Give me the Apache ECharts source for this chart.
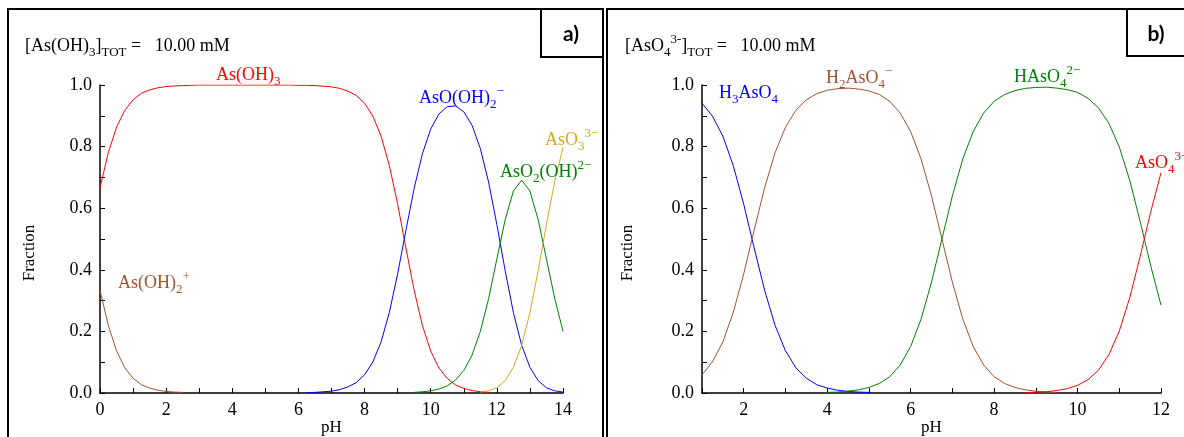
<!DOCTYPE html>
<html><head><meta charset="utf-8">
<script src="https://cdn.jsdelivr.net/npm/echarts@6/dist/echarts.min.js"></script>
<style>html,body{margin:0;padding:0;background:#fff}#c{width:1184px;height:437px}</style>
</head><body><div id="c"></div>
<script>
// ---- Panel a: As(III) speciation, pH 0..14 step 0.25 ----
const phA = [0,0.25,0.5,0.75,1,1.25,1.5,1.75,2,2.25,2.5,2.75,3,3.25,3.5,3.75,4,4.25,4.5,4.75,5,5.25,5.5,5.75,6,6.25,6.5,6.75,7,7.25,7.5,7.75,8,8.25,8.5,8.75,9,9.25,9.5,9.75,10,10.25,10.5,10.75,11,11.25,11.5,11.75,12,12.25,12.5,12.75,13,13.25,13.5,13.75,14];
const asOH2p = [0.334,0.220,0.137,0.082,0.048,0.027,0.016,0.009,0.005,0.003,0.002,null,null,null,null,null,null,null,null,null,null,null,null,null,null,null,null,null,null,null,null,null,null,null,null,null,null,null,null,null,null,null,null,null,null,null,null,null,null,null,null,null,null,null,null,null,null];
const asOH3 = [0.666,0.780,0.863,0.918,0.952,0.973,0.984,0.991,0.995,0.997,0.998,0.999,1.000,1.000,1.000,1.000,1.000,1.000,1.000,1.000,1.000,1.000,1.000,1.000,0.999,0.999,0.998,0.996,0.994,0.989,0.980,0.966,0.941,0.899,0.834,0.738,0.613,0.471,0.333,0.219,0.136,0.081,0.047,0.026,0.015,0.008,0.004,0.002,null,null,null,null,null,null,null,null,null];
const asOOH2m = [null,null,null,null,null,null,null,null,null,null,null,null,null,null,null,null,null,null,null,null,null,null,null,null,null,0.001,0.002,0.004,0.006,0.011,0.020,0.034,0.059,0.101,0.166,0.262,0.387,0.528,0.665,0.777,0.857,0.906,0.930,0.932,0.913,0.869,0.794,0.685,0.547,0.398,0.261,0.155,0.083,0.040,0.017,0.007,0.003];
const asO2OH2m = [null,null,null,null,null,null,null,null,null,null,null,null,null,null,null,null,null,null,null,null,null,null,null,null,null,null,null,null,null,null,null,null,null,null,null,null,null,null,0.002,0.004,0.007,0.013,0.023,0.042,0.073,0.123,0.200,0.306,0.435,0.562,0.656,0.691,0.656,0.562,0.435,0.307,0.200];
const asO3m = [null,null,null,null,null,null,null,null,null,null,null,null,null,null,null,null,null,null,null,null,null,null,null,null,null,null,null,null,null,null,null,null,null,null,null,null,null,null,null,null,null,null,null,null,null,null,0.003,0.007,0.017,0.040,0.083,0.155,0.261,0.398,0.548,0.687,0.797];

// ---- Panel b: As(V) speciation, pH 1..12 step 0.25 ----
const phB = [1,1.25,1.5,1.75,2,2.25,2.5,2.75,3,3.25,3.5,3.75,4,4.25,4.5,4.75,5,5.25,5.5,5.75,6,6.25,6.5,6.75,7,7.25,7.5,7.75,8,8.25,8.5,8.75,9,9.25,9.5,9.75,10,10.25,10.5,10.75,11,11.25,11.5,11.75,12];
const h3aso4 = [0.941,0.899,0.834,0.738,0.613,0.471,0.334,0.220,0.137,0.082,0.048,0.027,0.016,0.009,0.005,0.003,0.002,null,null,null,null,null,null,null,null,null,null,null,null,null,null,null,null,null,null,null,null,null,null,null,null,null,null,null,null];
const h2aso4 = [0.059,0.101,0.166,0.262,0.387,0.529,0.666,0.780,0.863,0.918,0.952,0.972,0.983,0.988,0.990,0.987,0.981,0.969,0.947,0.909,0.849,0.760,0.640,0.500,0.360,0.240,0.151,0.091,0.053,0.031,0.018,0.010,0.006,0.003,0.002,null,null,null,null,null,null,null,null,null,null];
const haso4 = [null,null,null,null,null,null,null,null,null,null,null,null,0.002,0.003,0.006,0.010,0.018,0.031,0.053,0.091,0.151,0.240,0.360,0.500,0.640,0.760,0.849,0.909,0.947,0.969,0.982,0.989,0.992,0.993,0.990,0.985,0.976,0.957,0.926,0.876,0.799,0.691,0.557,0.415,0.285];
const aso4 = [null,null,null,null,null,null,null,null,null,null,null,null,null,null,null,null,null,null,null,null,null,null,null,null,null,null,null,null,null,null,null,0.001,0.003,0.004,0.008,0.014,0.025,0.043,0.074,0.124,0.201,0.309,0.443,0.586,0.715];

const SERIF = '"Liberation Serif", "Times New Roman", serif';
const C = {red:'#ff0000', blue:'#0000ff', green:'#008000', orange:'#daa520', brown:'#a0522d'};

function pairs(xs, ys){ const out=[]; for(let i=0;i<xs.length;i++){ if(ys[i]!==null) out.push([xs[i], ys[i]]); } return out; }
function line(name, xi, yi, xs, ys, color){
  return {name, type:'line', xAxisIndex:xi, yAxisIndex:yi, data:pairs(xs,ys), showSymbol:false, symbol:'none',
    lineStyle:{color, width:1}, itemStyle:{color}, animation:false, silent:true, z:3};
}
const FS = 18, TS = 18, NS = 17;
function rich(color){
  return {
    n:{fontSize:FS, fontFamily:SERIF, fill:color, color, lineHeight:26, verticalAlign:'middle'},
    sb:{fontSize:13, fontFamily:SERIF, fill:color, color, lineHeight:15, verticalAlign:'bottom'},
    sp:{fontSize:13, fontFamily:SERIF, fill:color, color, lineHeight:16, verticalAlign:'top'}
  };
}
function label(x, y, text, color){
  return {type:'text', x, y, z:10, style:{text, rich:rich(color), fill:color, align:'left', verticalAlign:'middle', fontSize:FS, fontFamily:SERIF}};
}
function xAxis(gi, min, max){
  return {type:'value', gridIndex:gi, min, max, interval:1, name:'pH', nameLocation:'middle', nameGap:26, nameMoveOverlap:false,
    nameTextStyle:{fontFamily:SERIF, fontSize:NS, color:'#000'},
    axisLine:{show:true, onZero:false, lineStyle:{color:'#000', width:1.5}},
    axisTick:{show:true, inside:true, length:5, lineStyle:{color:'#000', width:1}},
    axisLabel:{fontFamily:SERIF, fontSize:TS, color:'#000', margin:8, formatter:v=> (Math.round(v)%2===0 ? String(Math.round(v)) : '')},
    splitLine:{show:false}};
}
function yAxis(gi, gap){
  return {type:'value', gridIndex:gi, min:0, max:1, interval:0.1, name:'Fraction', nameLocation:'middle', nameGap:gap, nameRotate:90, nameMoveOverlap:false,
    nameTextStyle:{fontFamily:SERIF, fontSize:NS, color:'#000', padding:[0,28,0,0]},
    axisLine:{show:true, lineStyle:{color:'#000', width:1.5}},
    axisTick:{show:true, inside:true, length:5, lineStyle:{color:'#000', width:1}},
    axisLabel:{fontFamily:SERIF, fontSize:TS, color:'#000', margin:8, formatter:v=> (Math.round(v*10)%2===0 ? v.toFixed(1) : '')},
    splitLine:{show:false}};
}

const chart = echarts.init(document.getElementById('c'));
chart.setOption({
  animation:false,
  backgroundColor:'#fff',
  grid:[{left:100, top:85, width:463, height:308, containLabel:false, outerBoundsMode:'none'},
        {left:702, top:85, width:459, height:308, containLabel:false, outerBoundsMode:'none'}],
  xAxis:[xAxis(0,0,14), xAxis(1,1,12)],
  yAxis:[yAxis(0,62), yAxis(1,66)],
  series:[
    line('As(OH)2+',0,0,phA,asOH2p,C.brown),
    line('As(OH)3',0,0,phA,asOH3,C.red),
    line('AsO(OH)2-',0,0,phA,asOOH2m,C.blue),
    line('AsO2(OH)2-',0,0,phA,asO2OH2m,C.green),
    line('AsO3 3-',0,0,phA,asO3m,C.orange),
    line('H3AsO4',1,1,phB,h3aso4,C.blue),
    line('H2AsO4-',1,1,phB,h2aso4,C.brown),
    line('HAsO4 2-',1,1,phB,haso4,C.green),
    line('AsO4 3-',1,1,phB,aso4,C.red)
  ],
  graphic:[
    {type:'rect', shape:{x:8, y:9, width:595, height:450}, style:{fill:null, stroke:'#000', lineWidth:2}, z:1},
    {type:'rect', shape:{x:607, y:9, width:590, height:450}, style:{fill:null, stroke:'#000', lineWidth:2}, z:1},
    {type:'rect', shape:{x:541, y:9, width:62, height:48}, style:{fill:'#fff', stroke:'#000', lineWidth:2}, z:5},
    {type:'rect', shape:{x:1127, y:9, width:70, height:47}, style:{fill:'#fff', stroke:'#000', lineWidth:2}, z:5},
    {type:'text', x:571, y:34, z:6, style:{text:'a)', fontFamily:'Lato, "Open Sans", sans-serif', fontWeight:'bold', fontSize:21, fill:'#000', align:'center', verticalAlign:'middle'}},
    {type:'text', x:1156, y:34, z:6, style:{text:'b)', fontFamily:'Lato, "Open Sans", sans-serif', fontWeight:'bold', fontSize:21, fill:'#000', align:'center', verticalAlign:'middle'}},
    label(25, 46, '{n|[As(OH)}{sb|3}{n|]}{sb|TOT}{n| =   10.00 mM}', '#000'),
    label(625, 46, '{n|[AsO}{sb|4}{sp|3-}{n|]}{sb|TOT}{n| =   10.00 mM}', '#000'),
    label(216, 75, '{n|As(OH)}{sb|3}', C.red),
    label(419, 98, '{n|AsO(OH)}{sb|2}{sp|−}', C.blue),
    label(545, 140, '{n|AsO}{sb|3}{sp|3−}', C.orange),
    label(500, 172, '{n|AsO}{sb|2}{n|(OH)}{sp|2−}', C.green),
    label(118, 283, '{n|As(OH)}{sb|2}{sp|+}', C.brown),
    label(719, 93, '{n|H}{sb|3}{n|AsO}{sb|4}', C.blue),
    label(826, 78, '{n|H}{sb|2}{n|AsO}{sb|4}{sp|−}', C.brown),
    label(1014, 77, '{n|HAsO}{sb|4}{sp|2−}', C.green),
    label(1135, 163, '{n|AsO}{sb|4}{sp|3−}', C.red)
  ]
});
</script>
</body></html>
